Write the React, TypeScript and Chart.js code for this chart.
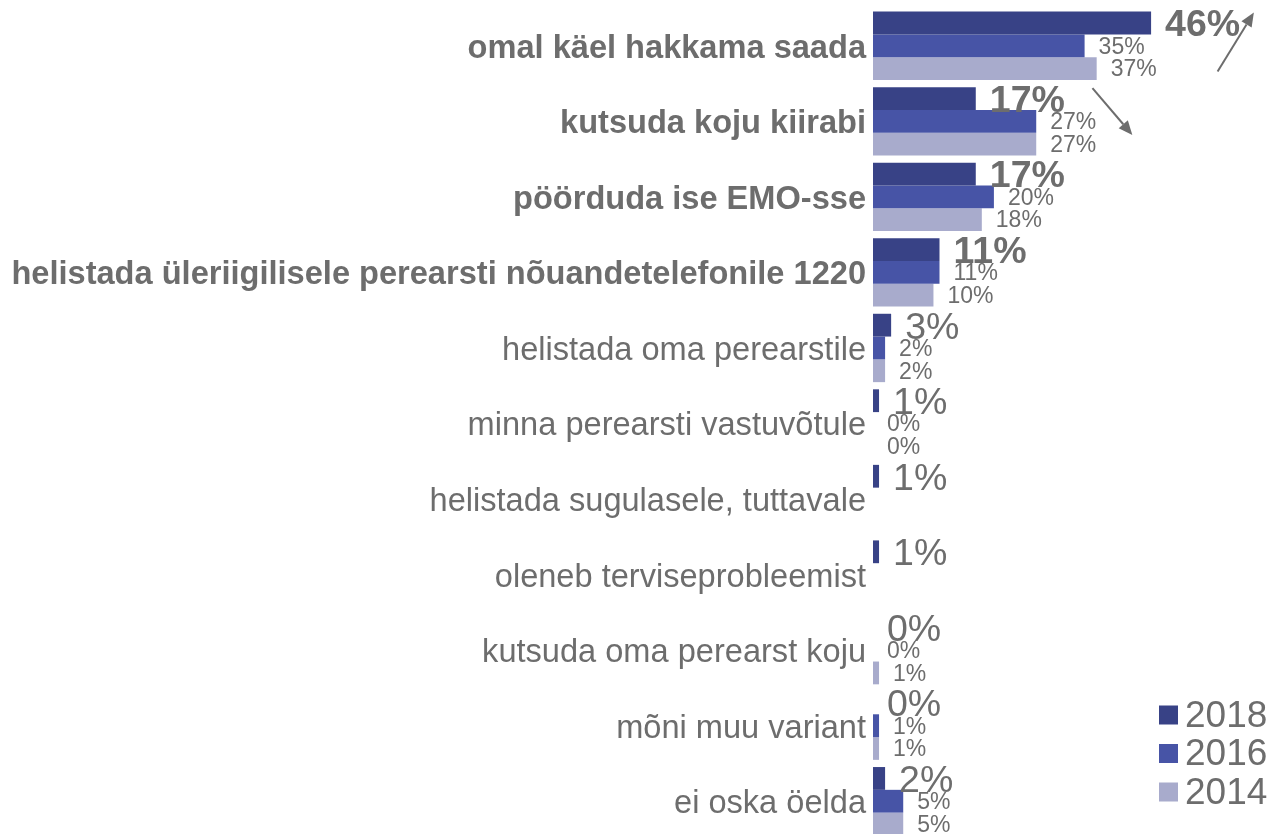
import React, { useEffect, useRef } from "react";
import { Chart, registerables } from "chart.js";

Chart.register(...registerables);

const categories = [
  "omal käel hakkama saada",
  "kutsuda koju kiirabi",
  "pöörduda ise EMO-sse",
  "helistada üleriigilisele perearsti nõuandetelefonile 1220",
  "helistada oma perearstile",
  "minna perearsti vastuvõtule",
  "helistada sugulasele, tuttavale",
  "oleneb terviseprobleemist",
  "kutsuda oma perearst koju",
  "mõni muu variant",
  "ei oska öelda",
];

const seriesLabels = ["2018", "2016", "2014"];
const values2018: (number | null)[] = [46, 17, 17, 11, 3, 1, 1, 1, 0, 0, 2];
const values2016: (number | null)[] = [35, 27, 20, 11, 2, 0, null, null, 0, 1, 5];
const values2014: (number | null)[] = [37, 27, 18, 10, 2, 0, null, null, 1, 1, 5];
const boldRows = 4;

// trend arrows in data units: [xFrom, yFrom, xTo, yTo] (x in %, y in category index)
const arrowUp = [57, 0.34, 63, -0.44];
const arrowDown = [36.3, 0.56, 42.9, 1.18];

const colors = ["#384286", "#4754a6", "#a8abcc"];
const textColor = "#6d6d6d";
const FONT = "'Liberation Sans', Arial, sans-serif";

export default function App() {
  const ref = useRef<HTMLCanvasElement>(null);

  useEffect(() => {
    document.body.style.margin = "0";
    const canvas = ref.current!;
    const labelPlugin = {
      id: "valueLabels",
      afterDatasetsDraw(chart: any) {
        const ctx = chart.ctx;
        ctx.save();
        ctx.fillStyle = textColor;
        ctx.textAlign = "left";
        ctx.textBaseline = "middle";
        chart.data.datasets.forEach((ds: any, di: number) => {
          const meta = chart.getDatasetMeta(di);
          meta.data.forEach((bar: any, i: number) => {
            const v = ds.data[i];
            if (v === null || v === undefined) return;
            let dy = 1;
            if (di === 0) {
              ctx.font = `${i < boldRows ? "bold " : ""}37.5px ${FONT}`;
              dy = 3;
            } else {
              ctx.font = `23px ${FONT}`;
              dy = 1.5;
            }
            ctx.fillText(`${v}%`, bar.x + 14, bar.y + dy);
          });
        });
        ctx.restore();
      },
      afterDraw(chart: any) {
        const ctx = chart.ctx;
        const xs = chart.scales.x;
        const ys = chart.scales.y;
        ctx.save();
        ctx.strokeStyle = textColor;
        ctx.fillStyle = textColor;
        ctx.lineWidth = 2;
        [arrowUp, arrowDown].forEach((a) => {
          const x1 = xs.getPixelForValue(a[0]);
          const y1 = ys.getPixelForValue(a[1]);
          const x2 = xs.getPixelForValue(a[2]);
          const y2 = ys.getPixelForValue(a[3]);
          const ang = Math.atan2(y2 - y1, x2 - x1);
          const hl = 14;
          const hw = 6;
          const bx = x2 - hl * Math.cos(ang);
          const by = y2 - hl * Math.sin(ang);
          ctx.beginPath();
          ctx.moveTo(x1, y1);
          ctx.lineTo(bx, by);
          ctx.stroke();
          ctx.beginPath();
          ctx.moveTo(x2, y2);
          ctx.lineTo(bx + hw * Math.sin(ang), by - hw * Math.cos(ang));
          ctx.lineTo(bx - hw * Math.sin(ang), by + hw * Math.cos(ang));
          ctx.closePath();
          ctx.fill();
        });
        // legend
        ctx.font = `37px ${FONT}`;
        ctx.textAlign = "left";
        ctx.textBaseline = "middle";
        chart.data.datasets.forEach((ds: any, di: number) => {
          const cy = 715 + di * 38.5;
          ctx.fillStyle = ds.backgroundColor;
          ctx.fillRect(1159, cy - 9.5, 19, 19);
          ctx.fillStyle = textColor;
          ctx.fillText(ds.label, 1185, cy + 1.5);
        });
        ctx.restore();
      },
    };

    const chart = new Chart(canvas, {
      type: "bar",
      data: {
        labels: categories,
        datasets: [values2018, values2016, values2014].map((d, i) => ({
          label: seriesLabels[i],
          data: d,
          backgroundColor: colors[i],
          borderWidth: 0,
          barPercentage: 1,
          categoryPercentage: 0.905,
        })),
      },
      options: {
        indexAxis: "y",
        responsive: false,
        animation: false,
        layout: { padding: { top: 8, right: 0, bottom: 0, left: 0 } },
        plugins: { legend: { display: false }, tooltip: { enabled: false } },
        scales: {
          x: { display: false, min: 0, max: 66 },
          y: {
            afterFit: (s: any) => {
              s.width = 873;
              s.paddingTop = 0;
              s.paddingBottom = 0;
            },
            grid: { display: false, drawTicks: false },
            border: { display: false },
            ticks: {
              padding: 7,
              labelOffset: 3,
              color: textColor,
              autoSkip: false,
              font: (c: any) => ({
                family: FONT,
                size: 32.6,
                weight: c.index < boldRows ? "bold" : "normal",
              }),
            },
          },
        },
      },
      plugins: [labelPlugin],
    } as any);
    return () => chart.destroy();
  }, []);

  return (
    <div style={{ position: "absolute", left: 0, top: 0, width: 1272, height: 834, overflow: "hidden" }}>
      <canvas ref={ref} width={1272} height={839} style={{ display: "block" }} />
    </div>
  );
}
